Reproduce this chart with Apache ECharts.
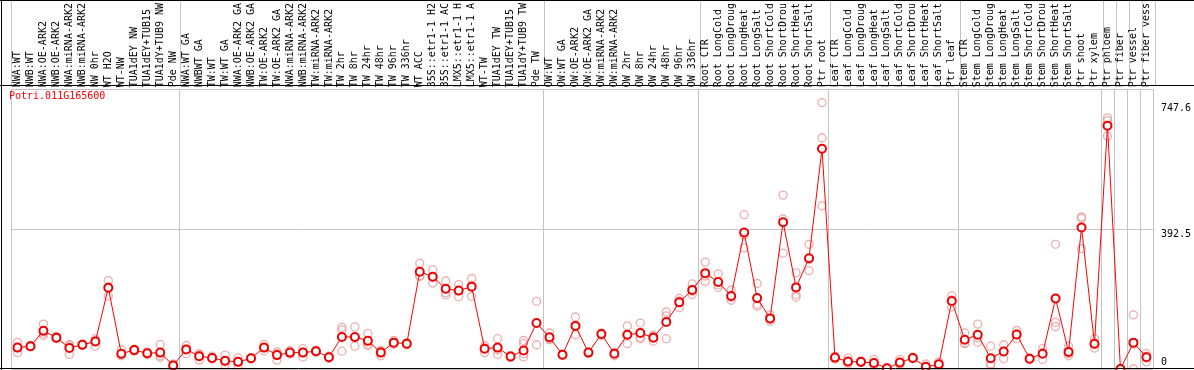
<!DOCTYPE html>
<html>
<head>
<meta charset="utf-8">
<script src="https://cdn.jsdelivr.net/npm/echarts@6/dist/echarts.min.js"></script>
<style>
html,body{margin:0;padding:0;background:#fff;}
#chart{width:1194px;height:370px;}
</style>
</head>
<body>
<div id="chart"></div>
<script>
const geneId = 'Potri.011G165600';

const categories = [
  'NWA:WT','NWB:WT','NWA:OE-ARK2','NWB:OE-ARK2','NWA:miRNA-ARK2','NWB:miRNA-ARK2','NW 0hr','WT H2O','WT-NW','TUA1dEY NW','TUA1dEY+TUB15','TUA1dY+TUB9 NW','Pde NW',
  'NWA:WT GA','NWBWT GA','TW:WT','TW:WT GA','NWA:OE-ARK2 GA','NWB:OE-ARK2 GA','TW:OE-ARK2','TW:OE-ARK2 GA','NWA:miRNA-ARK2','NWB:miRNA-ARK2','TW:miRNA-ARK2','TW:miRNA-ARK2',
  'TW 2hr','TW 8hr','TW 24hr','TW 48hr','TW 96hr','TW 336hr','WT ACC','35S::etr1-1 H2','35S::etr1-1 AC','LMX5::etr1-1 H','LMX5::etr1-1 A','WT-TW','TUA1dEY TW','TUA1dEY+TUB15','TUA1dY+TUB9 TW','Pde TW',
  'OW:WT','OW:WT GA','OW:OE-ARK2','OW:OE-ARK2 GA','OW:miRNA-ARK2','OW:miRNA-ARK2','OW 2hr','OW 8hr','OW 24hr','OW 48hr','OW 96hr','OW 336hr',
  'Root CTR','Root LongCold','Root LongDroug','Root LongHeat','Root LongSalt','Root ShortCold','Root ShortDrou','Root ShortHeat','Root ShortSalt','Ptr root',
  'Leaf CTR','Leaf LongCold','Leaf LongDroug','Leaf LongHeat','Leaf LongSalt','Leaf ShortCold','Leaf ShortDrou','Leaf ShortHeat','Leaf ShortSalt','Ptr leaf',
  'Stem CTR','Stem LongCold','Stem LongDroug','Stem LongHeat','Stem LongSalt','Stem ShortCold','Stem ShortDrou','Stem ShortHeat','Stem ShortSalt','Ptr shoot','Ptr xylem',
  'Ptr phloem','Ptr fiber','Ptr vessel','Ptr fiber vess'
];

// indices of categories that start a new group (separator line drawn on their left edge)
const groupStarts = [0, 13, 41, 53, 63, 73, 84, 85, 86, 87];

const meanValues = [
  60,64,107,88,59,68,77,228,43,53,44,46,10,
  55,36,31,23,20,30,60,39,46,46,50,33,
  90,90,79,46,74,71,273,259,225,220,231,57,60,35,52,129,
  89,40,121,46,98,43,96,101,88,132,187,222,
  269,244,205,383,199,142,412,229,311,618,
  32,21,20,17,2,18,31,6,13,191,
  82,96,30,49,97,29,43,198,48,397,71,
  683,0,74,33
];

const rep1 = [
  75,66,126,92,69,70,85,248,54,56,48,69,14,
  66,43,36,39,31,32,69,48,52,57,53,36,
  117,118,100,37,80,74,297,278,247,237,254,66,85,38,80,190,
  101,42,146,48,101,37,121,129,92,160,198,239,
  300,267,221,433,240,152,488,270,350,747.6,
  28,31,22,27,3,27,33,14,20,205,
  101,126,64,68,108,31,57,350,64,427,85,
  705,0,152,43
];

const rep2 = [
  46,62,94,85,41,66,64,205,37,50,40,37,6,
  43,25,28,11,10,28,51,25,42,34,47,30,
  110,64,66,52,69,68,260,241,208,203,204,46,41,32,71,68,
  82,38,96,44,94,46,71,85,78,149,172,209,
  246,229,193,340,176,134,325,209,276,649,
  36,14,18,11,1,14,29,2,6,174,
  71,75,11,29,85,27,27,131,37,423,59,
  697,0,70,20
];

const rep3 = [
  60,64,100,88,66,68,80,230,40,53,44,33,10,
  56,40,30,20,20,30,60,44,45,47,50,33,
  50,88,70,49,73,71,262,258,214,220,235,59,54,35,43,129,
  84,40,121,46,99,45,96,89,94,85,191,218,
  261,236,201,376,181,140,421,202,307,458,
  32,18,20,13,2,13,31,2,13,194,
  74,87,15,50,98,29,45,119,43,338,69,
  654,0,0,36
];

const rep4 = categories.map(function () { return null; });
rep4[39] = 34;

const allReps = [].concat(rep1, rep2, rep3, rep4).filter(function (v) { return v != null; });
const dataMax = Math.max.apply(null, allReps);
const yMax = dataMax * 1.05;
const yLabelValues = [0, yMax / 2, dataMax];

const FONT = 'DejaVu Sans Mono';
const GRID_LEFT = 11, GRID_RIGHT = 39, GRID_TOP = 85, GRID_BOTTOM = 1;

const chart = echarts.init(document.getElementById('chart'), null, { renderer: 'canvas' });

function repSeries(arr, name) {
  return {
    name: name,
    type: 'scatter',
    xAxisIndex: 0,
    yAxisIndex: 0,
    data: arr,
    symbol: 'circle',
    symbolSize: 8,
    itemStyle: { color: 'rgba(0,0,0,0)', borderColor: '#e99a9a', borderWidth: 1.3 },
    z: 2,
    silent: true
  };
}

const splitFn = function (idx) { return groupStarts.indexOf(idx) >= 0; };

const option = {
  animation: false,
  backgroundColor: '#fff',
  title: {
    text: geneId,
    left: 9,
    top: 91,
    padding: 0,
    textStyle: { color: '#ff0000', fontSize: 10, fontWeight: 'normal', fontFamily: FONT }
  },
  grid: [
    { left: GRID_LEFT, right: GRID_RIGHT, top: GRID_TOP, bottom: GRID_BOTTOM, containLabel: false },
    { left: GRID_LEFT, right: GRID_RIGHT, top: 0, height: GRID_TOP, containLabel: false }
  ],
  xAxis: [
    {
      type: 'category',
      gridIndex: 0,
      position: 'top',
      data: categories,
      boundaryGap: true,
      axisLine: { show: false },
      axisTick: { show: false },
      axisLabel: {
        interval: 0,
        rotate: 90,
        margin: 2,
        fontSize: 10,
        fontFamily: FONT,
        color: '#000'
      },
      splitLine: { show: true, interval: splitFn, lineStyle: { color: '#c4c4c4', width: 1 } }
    },
    {
      type: 'category',
      gridIndex: 1,
      data: categories,
      boundaryGap: true,
      axisLine: { show: false },
      axisTick: { show: false },
      axisLabel: { show: false },
      splitLine: { show: true, interval: splitFn, lineStyle: { color: '#c4c4c4', width: 1 } }
    }
  ],
  yAxis: [
    {
      type: 'value',
      gridIndex: 0,
      position: 'right',
      min: 0,
      max: yMax,
      interval: yMax / 2,
      axisLine: { show: false },
      axisTick: { show: false },
      splitLine: { show: true, lineStyle: { color: '#c4c4c4', width: 1 } },
      axisLabel: {
        customValues: yLabelValues,
        margin: 8,
        color: '#000',
        fontSize: 10,
        fontFamily: FONT,
        formatter: function (v) {
          if (v === 0) return '{z|0}';
          if (Math.abs(v - dataMax) < 1e-6) return '{t|' + v.toFixed(1) + '}';
          return '{m|' + v.toFixed(1) + '}';
        },
        rich: {
          z: { fontSize: 10, fontFamily: FONT, color: '#000', padding: [0, 0, 14, 0] },
          m: { fontSize: 10, fontFamily: FONT, color: '#000', padding: [10, 0, 0, 0] },
          t: { fontSize: 10, fontFamily: FONT, color: '#000', padding: [12, 0, 0, 0] }
        }
      }
    },
    {
      type: 'value',
      gridIndex: 1,
      show: false
    }
  ],
  graphic: [
    { type: 'line', z: 100, silent: true, shape: { x1: 0, y1: 0.5, x2: 1194, y2: 0.5 }, style: { stroke: '#000', lineWidth: 1 } },
    { type: 'line', z: 100, silent: true, shape: { x1: 0, y1: 85.5, x2: 1194, y2: 85.5 }, style: { stroke: '#000', lineWidth: 1 } },
    { type: 'line', z: 100, silent: true, shape: { x1: 0, y1: 368.5, x2: 1194, y2: 368.5 }, style: { stroke: '#000', lineWidth: 1 } },
    { type: 'line', z: 100, silent: true, shape: { x1: 1.5, y1: 0, x2: 1.5, y2: 370 }, style: { stroke: '#000', lineWidth: 1 } }
  ],
  series: [
    repSeries(rep1, 'rep1'),
    repSeries(rep2, 'rep2'),
    repSeries(rep3, 'rep3'),
    repSeries(rep4, 'rep4'),
    {
      name: 'mean',
      type: 'line',
      xAxisIndex: 0,
      yAxisIndex: 0,
      data: meanValues,
      symbol: 'emptyCircle',
      symbolSize: 8,
      showAllSymbol: true,
      lineStyle: { color: '#ff0000', width: 1 },
      itemStyle: { color: '#ee0000', borderColor: '#ee0000', borderWidth: 1.5 },
      z: 3,
      silent: true
    }
  ]
};

chart.setOption(option);
</script>
</body>
</html>
